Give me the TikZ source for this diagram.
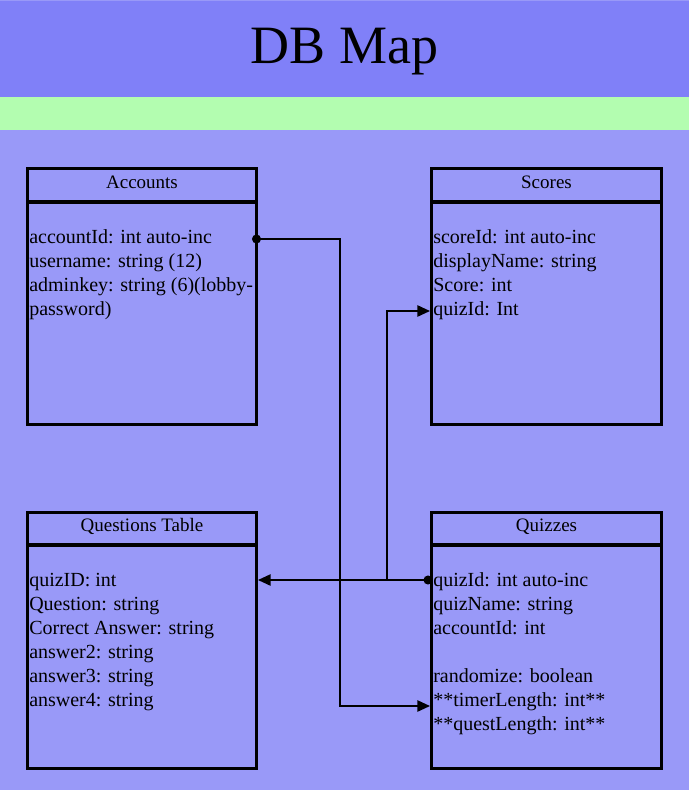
\documentclass[tikz,border=0pt]{standalone}
\usepackage{fontspec}
\setmainfont{Liberation Serif}
\usetikzlibrary{arrows.meta}
\definecolor{titlebg}{HTML}{8080F8}
\definecolor{greenbar}{HTML}{B3FDB0}
\definecolor{mainbg}{HTML}{9999F8}
\begin{document}
\begin{tikzpicture}[x=0.75pt,y=-0.75pt,
  tablebox/.style={draw=black, fill=mainbg, line width=2.25pt, rectangle, inner sep=0pt, outer sep=0pt, anchor=north west},
  divider/.style={draw=black, line width=3pt},
  header/.style={anchor=base, inner sep=0pt, font=\fontsize{14.25}{17}\selectfont},
  field/.style={anchor=base west, inner sep=0pt, font=\fontsize{15}{18}\selectfont},
  conn/.style={draw=black, line width=1.2pt},
  tip/.style={-{Triangle[length=9.5pt,width=8.5pt]}},
  dot/.style={fill=black}]
\useasboundingbox (0,0) rectangle (689,790);
% background bands
\fill[mainbg] (0,0) rectangle (689,790);
\fill[titlebg] (0,1) rectangle (689,97);
\fill[greenbar] (0,97) rectangle (689,130);
\node[anchor=base, inner sep=0pt, font=\fontsize{40.5}{44}\selectfont] (title) at (344.5,63) {DB Map};

% Accounts
\node[tablebox, minimum width=171.75pt, minimum height=192pt] (acc) at (27.5,168.5) {};
\draw[divider] (27.5,202) -- (256.5,202);
\node[header] (acch) at (142,188) {Accounts};
\node[field] (acc1) at (29,243) {accountId: int auto-inc};
\node[field] (acc2) at (29,267) {username: string (12)};
\node[field] (acc3) at (29,291) {adminkey: string (6)(lobby-};
\node[field] (acc4) at (29,315) {password)};

% Scores
\node[tablebox, minimum width=172.5pt, minimum height=192pt] (sco) at (431.5,168.5) {};
\draw[divider] (431.5,202) -- (661.5,202);
\node[header] (scoh) at (546.5,188) {Scores};
\node[field] (sco1) at (433,243) {scoreId: int auto-inc};
\node[field] (sco2) at (433,267) {displayName: string};
\node[field] (sco3) at (433,291) {Score: int};
\node[field] (sco4) at (433,315) {quizId: Int};

% Questions Table
\node[tablebox, minimum width=171.75pt, minimum height=192pt] (qst) at (27.5,512.5) {};
\draw[divider] (27.5,545) -- (256.5,545);
\node[header] (qsth) at (142,531) {Questions Table};
\node[field] (qst1) at (29,586) {quizID: int};
\node[field] (qst2) at (29,610) {Question: string};
\node[field] (qst3) at (29,634) {Correct Answer: string};
\node[field] (qst4) at (29,658) {answer2: string};
\node[field] (qst5) at (29,682) {answer3: string};
\node[field] (qst6) at (29,706) {answer4: string};

% Quizzes
\node[tablebox, minimum width=172.5pt, minimum height=192pt] (qz) at (431.5,512.5) {};
\draw[divider] (431.5,545) -- (661.5,545);
\node[header] (qzh) at (546.5,531) {Quizzes};
\node[field] (qz1) at (433,586) {quizId: int auto-inc};
\node[field] (qz2) at (433,610) {quizName: string};
\node[field] (qz3) at (433,634) {accountId: int};
\node[field] (qz4) at (433,682) {randomize: boolean};
\node[field] (qz5) at (433,706) {**timerLength: int**};
\node[field] (qz6) at (433,730) {**questLength: int**};

% connector anchor points
\coordinate (accPK) at (256.5,239);
\coordinate (accBend) at (340,239);
\coordinate (qzFK) at (430,706);
\coordinate (qzPK) at (428,580);
\coordinate (qstFK) at (258,580);
\coordinate (branch) at (387,580);
\coordinate (scoFK) at (430,311);

% connectors
\draw[conn, tip] (accPK) -- (accBend) |- (qzFK);
\fill[dot] (accPK) circle[radius=3.4pt];
\draw[conn, tip] (qzPK) -- (qstFK);
\fill[dot] (qzPK) circle[radius=3.4pt];
\draw[conn, tip] (branch) |- (scoFK);
\end{tikzpicture}
\end{document}
